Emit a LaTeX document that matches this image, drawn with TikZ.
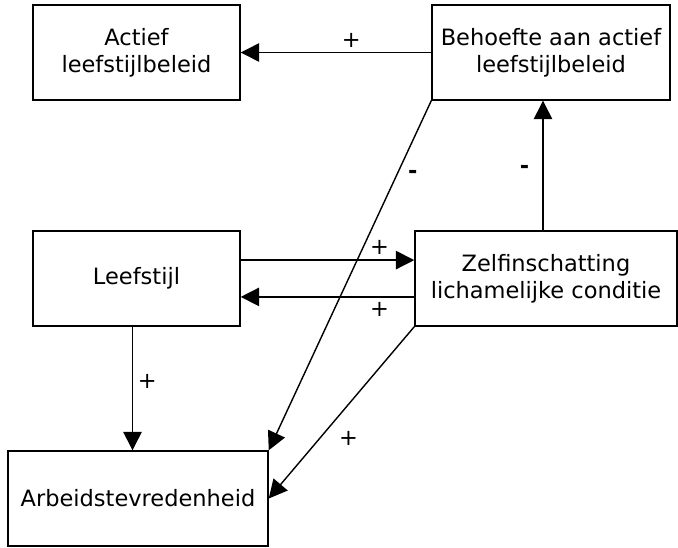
\documentclass[tikz,border=0pt]{standalone}
\usepackage{fontspec}
\setmainfont{DejaVu Sans}
\usetikzlibrary{arrows.meta}
\begin{document}
\begin{tikzpicture}[x=0.025cm, y=-0.025cm,
  every node/.style={font=\fontsize{16}{19.5}\selectfont},
  blok/.style={draw, line width=1pt, align=center, inner sep=0pt, minimum height=2.375cm},
  pijl/.style={line width=1pt, -{Triangle[length=0.46cm,width=0.46cm]}}]

\useasboundingbox (0,0) rectangle (678,547);

\node[blok, minimum width=5.175cm] (actief) at (136.5,52.5) {Actief\\leefstijlbeleid};
\node[blok, minimum width=5.95cm] (behoefte) at (551,52.5) {Behoefte aan actief\\leefstijlbeleid};
\node[blok, minimum width=5.175cm] (leefstijl) at (136.5,278.5) {Leefstijl};
\node[blok, minimum width=6.55cm] (zelf) at (546,278.5) {Zelfinschatting\\lichamelijke conditie};
\node[blok, minimum width=6.5cm] (arbeid) at (138,498.5) {Arbeidstevredenheid};

\draw[pijl] (behoefte.west) -- node[pos=0.42, above] {+} (actief.east);
\draw[pijl] (behoefte.south west) -- node[pos=0.21, right=4pt] {\textbf{-}} (arbeid.north east);
\draw[pijl] ([xshift=-0.075cm]zelf.north) -- node[pos=0.47, left=6pt] {\textbf{-}} ([xshift=-0.075cm]zelf.north |- behoefte.south);

\draw[pijl] ([yshift=0.46cm]leefstijl.east) -- node[pos=0.8, above] {+} ([yshift=0.46cm]zelf.west);
\draw[pijl] ([yshift=-0.46cm]zelf.west) -- node[pos=0.2, below] {+} ([yshift=-0.46cm]leefstijl.east);

\draw[pijl] ([xshift=-0.1cm]leefstijl.south) -- node[pos=0.44, right] {+} ([xshift=-0.1cm]leefstijl.south |- arbeid.north);
\draw[pijl] (zelf.south west) -- node[pos=0.65, right=10pt] {+} (arbeid.east);
\end{tikzpicture}
\end{document}
